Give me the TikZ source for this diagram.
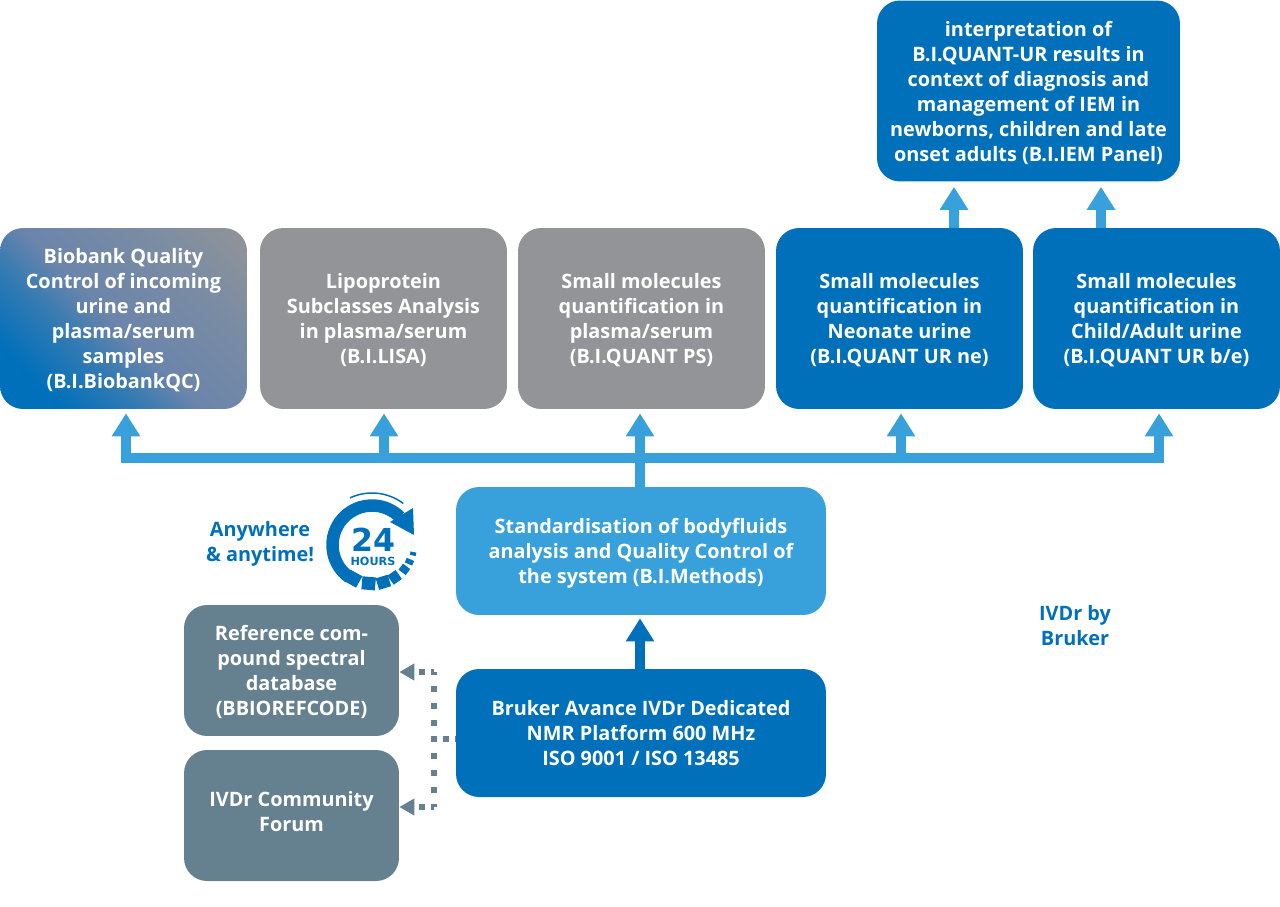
\documentclass[tikz,border=0pt]{standalone}
\usepackage{fontspec}
\setmainfont{Open Sans}
\newfontfamily\clockfont{DejaVu Sans}
\usetikzlibrary{arrows.meta}
\definecolor{darkblue}{rgb}{0, 0.439, 0.729}
\definecolor{lightblue}{rgb}{0.220, 0.627, 0.855}
\definecolor{midgrey}{rgb}{0.573, 0.580, 0.592}
\definecolor{slate}{rgb}{0.396, 0.502, 0.561}
\definecolor{steel}{rgb}{0.42, 0.52, 0.67}
\definecolor{steelblue}{rgb}{0.2, 0.48, 0.70}
\definecolor{steelgrey}{rgb}{0.48, 0.55, 0.64}
\pgfdeclareverticalshading{biofade}{100bp}{color(0bp)=(darkblue); color(25bp)=(darkblue); color(38bp)=(steelblue); color(48bp)=(steel); color(68bp)=(steelgrey); color(85bp)=(midgrey); color(100bp)=(midgrey)}
\newcommand{\topgap}{\rule{0pt}{12.5pt}}
\tikzstyle{every node}=[font=\fontsize{11.3}{14.23}\selectfont\bfseries,align=center]
\tikzstyle{note}=[execute at end node={\rule[-3.8pt]{0pt}{3.8pt}},text=darkblue]
\tikzstyle{box}=[note,rounded corners=0.46cm,text=white,inner sep=0pt,minimum width=4.94cm,minimum height=3.62cm]
\tikzstyle{wide}=[minimum width=7.4cm,minimum height=2.56cm]
\tikzstyle{side}=[minimum width=4.3cm,minimum height=2.62cm,fill=slate]
\tikzstyle{bus}=[line width=0.2cm,lightblue,line cap=rect]
\tikzstyle{feed}=[line width=0.2cm,lightblue,shorten >=0.08cm,-{Triangle[width=0.54cm,length=0.46cm]}]
\tikzstyle{dotv}=[line width=0.12cm,slate,dash pattern=on 0.12cm off 0.2175cm,dash phase=0.06cm]
\tikzstyle{doth}=[line width=0.12cm,slate,dash pattern=on 0.12cm off 0.12cm,dash phase=0.06cm]
\tikzstyle{dotfeed}=[doth,-{Triangle[width=0.32cm,length=0.3cm]}]
\begin{document}
\begin{tikzpicture}[x=0.02cm,y=-0.02cm]
\useasboundingbox (0,0) rectangle (1280,906);
\node[box,minimum width=6.06cm,fill=darkblue] (iem) at (1028.5,91)
  {\topgap interpretation of\\B.I.QUANT-UR results in\\context of diagnosis and\\management of IEM in\\newborns, children and late\\onset adults (B.I.IEM Panel)};
\node[box,shade,shading=biofade,shading angle=-45] (biobank) at (123.5,318.5)
  {\topgap Biobank Quality\\Control of incoming\\urine and\\plasma/serum\\samples\\(B.I.BiobankQC)};
\node[box,fill=midgrey] (lisa) at (383.5,318.5)
  {\topgap Lipoprotein\\Subclasses Analysis\\in plasma/serum\\(B.I.LISA)};
\node[box,fill=midgrey] (quantps) at (641.5,318.5)
  {\topgap Small molecules\\quantification in\\plasma/serum\\(B.I.QUANT PS)};
\node[box,fill=darkblue] (quantne) at (899.5,318.5)
  {\topgap Small molecules\\quantification in\\Neonate urine\\(B.I.QUANT UR ne)};
\node[box,fill=darkblue] (quantbe) at (1156.5,318.5)
  {\topgap Small molecules\\quantification in\\Child/Adult urine\\(B.I.QUANT UR b/e)};
\node[box,wide,fill=lightblue] (methods) at (641,551)
  {\topgap Standardisation of bodyfluids\\analysis and Quality Control of\\the system (B.I.Methods)};
\node[box,wide,fill=darkblue] (platform) at (641,733)
  {\topgap Bruker Avance IVDr Dedicated\\NMR Platform 600 MHz\\ISO 9001 / ISO 13485};
\node[box,side] (refcode) at (291.5,670.5)
  {\topgap Reference com-\\pound spectral\\database\\(BBIOREFCODE)};
\node[box,side] (forum) at (291.5,815.5)
  {\topgap\raisebox{0.08cm}{IVDr Community}\\\raisebox{0.08cm}{Forum}};
\node[note] (anywhere) at (260,541) {\topgap Anywhere\\\& anytime!};
\node[note] (ivdr) at (1075,625) {\topgap IVDr by\\Bruker};
\coordinate (busA) at (126,458);
\coordinate (busB) at (384,458);
\coordinate (busC) at (640,458);
\coordinate (busD) at (901,458);
\coordinate (busE) at (1159,458);
\draw[bus] (busA) -- (busE);
\draw[bus] (methods.north -| busC) -- (busC);
\draw[feed] (busA) -- (biobank.south -| busA);
\draw[feed] (busB) -- (lisa.south -| busB);
\draw[feed] (busC) -- (quantps.south -| busC);
\draw[feed] (busD) -- (quantne.south -| busD);
\draw[feed] (busE) -- (quantbe.south -| busE);
\coordinate (upA) at (954,228);
\coordinate (upB) at (1101,228);
\draw[feed,shorten >=0.1cm] (upA) -- (iem.south -| upA);
\draw[feed,shorten >=0.1cm] (upB) -- (iem.south -| upB);
\draw[feed,darkblue,shorten >=0.06cm] (platform.north -| busC) -- (methods.south -| busC);
\coordinate (dotT) at (434,672);
\coordinate (dotM) at (434,739);
\coordinate (dotB) at (434,807);
\draw[dotv] (dotT) -- (dotB);
\draw[doth] (dotM) -- (platform.west |- dotM);
\draw[dotfeed] (dotT) -- (refcode.east |- dotT);
\draw[dotfeed] (dotB) -- (forum.east |- dotB);
\begin{scope}[shift={(372,545)},x=0.02cm,y=0.02cm,darkblue]
\draw[line width=0.25cm] (235:39.5) arc (235:45:39.5);
\fill (41,37) -- (18,23) -- (42,10) -- cycle;
\draw[line width=0.03cm] (115:52) arc (115:53:52);
\foreach \a/\w/\r in {241/0.27/32,265/0.27/32,287/0.25/33,305/0.2/34,323/0.15/36,336/0.1/37,348/0.07/39}
  \draw[line width=\w cm] (\a:\r) -- (\a:45);
\node[font=\clockfont\fontsize{6.4}{8}\selectfont\bfseries,inner sep=0pt] (clockface) at (1,-1.5)
  {\fontsize{18}{8}\selectfont 24\\HOURS};
\end{scope}
\end{tikzpicture}
\end{document}
